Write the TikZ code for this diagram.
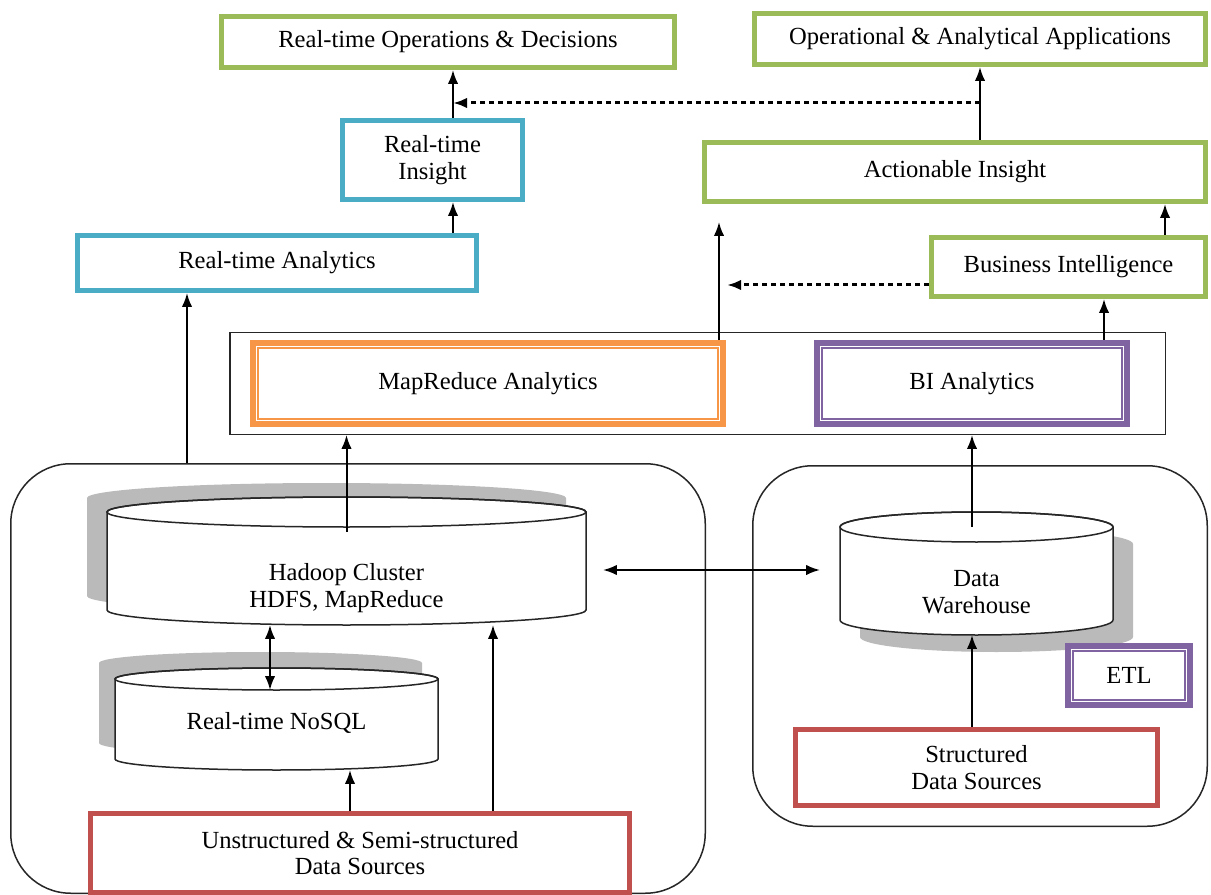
\documentclass[tikz,border=0pt]{standalone}
\usepackage{fontspec}
\setmainfont{Liberation Serif}
\usetikzlibrary{arrows.meta,backgrounds}
\newdimen\pxu \pxu=0.02cm
\definecolor{ogreen}{HTML}{9BBB59}
\definecolor{oblue}{HTML}{4BACC6}
\definecolor{ored}{HTML}{C0504D}
\definecolor{oorange}{HTML}{F79646}
\definecolor{opurple}{HTML}{8064A2}

\begin{document}
\begin{tikzpicture}[x=0.02cm, y=0.02cm, font=\fontsize{14}{15}\selectfont]
          \tikzset{sz/.style 2 args={minimum width=#1\pxu, minimum height=#2\pxu}}
          \tikzset{box/.style={draw=#1, fill=white, line width=5\pxu, inner sep=0pt, align=center}}
          \tikzset{dbox/.style={box=#1, line width=6\pxu}}
          \tikzset{group/.style={draw=black!85, line width=1.5\pxu, inner sep=0pt}}
          \tikzset{body/.style={inner sep=0pt, outer sep=0pt}}
          \tikzset{dbtext/.style={align=center}}
          \tikzset{arr/.style={-{Latex[length=0.28cm, width=0.21cm]}, line width=2\pxu}}
          \tikzset{arr2/.style={{Latex[length=0.28cm, width=0.21cm]}-{Latex[length=0.28cm, width=0.21cm]}, line width=2\pxu}}
          \tikzset{darr/.style={arr, dash pattern=on 0.1cm off 0.08cm, line width=3\pxu}}
          \tikzset{dbshade/.style={fill=black!27}}
          \tikzset{dbline/.style={draw=black!85, line width=1.5\pxu}}

          \useasboundingbox (0,0) rectangle (1211,-895);

          \node[box=ogreen, sz={453}{51}] (ops) at (448,-42) {Real-time Operations \& Decisions};
          \node[box=ogreen, sz={451}{51}] (apps) at (980,-39) {Operational \& Analytical Applications};
          \node[box=oblue, sz={180}{79}] (insight) at (432.5,-160) {Real-time\\Insight};
          \node[box=ogreen, sz={501}{59}] (action) at (955,-172) {Actionable Insight};
          \node[box=oblue, sz={399}{55}] (rta) at (277,-263) {Real-time Analytics};
          \node[box=ogreen, sz={274}{59}] (bi) at (1068.5,-267) {Business Intelligence};
          \node[group, sz={935.5}{101.5}] (ana) at (697.5,-383.5) {};
          \node[dbox=oorange, sz={470}{81}] (mapred) at (488,-383.5) {MapReduce Analytics};
          \node[dbox=opurple, sz={310}{81}] (bia) at (972,-383.5) {BI Analytics};
          \node[group, rounded corners=1.2cm, sz={694.5}{429.5}] (lgroup) at (358,-678.5) {};
          \node[group, rounded corners=1.2cm, sz={454.5}{360.5}] (rgroup) at (980,-646) {};
          \node[body, sz={479}{98}] (hadoop) at (346.5,-561) {};
          \node[dbtext] (hadooptxt) at (346.5,-588) {Hadoop Cluster\\HDFS, MapReduce};
          \node[body, sz={323}{80}] (nosql) at (276.5,-719) {};
          \node[dbtext] (nosqltxt) at (276.5,-723) {Real-time NoSQL};
          \node[body, sz={273}{93}] (dw) at (976.5,-573.5) {};
          \node[dbtext] (dwtxt) at (976.5,-592) {Data\\Warehouse};
          \node[dbox=opurple, sz={122}{59}] (etl) at (1129,-675.5) {ETL};
          \node[box=ored, sz={362}{76}] (ssrc) at (976.5,-767.5) {Structured\\Data Sources};
          \node[box=ored, sz={539}{79}] (usrc) at (360,-853) {Unstructured \& Semi-structured\\Data Sources};

          \foreach \n/\c in {mapred/oorange, bia/opurple, etl/opurple}
            \draw[\c, line width=1.5\pxu] ([shift={(8,-8)}]\n.north west) rectangle ([shift={(-8,8)}]\n.south east);

          \begin{scope}[on background layer]
            \foreach \n/\rx/\ry/\dx/\dy in {hadoop/239.5/15/-20/14, nosql/161.5/11/-16/16, dw/136.5/15/20/-17} {
              \fill[dbshade] ([shift={(\dx,\dy)}]\n.north west) arc[start angle=180, end angle=0, x radius=\rx\pxu, y radius=\ry\pxu]
                -- ([shift={(\dx,\dy)}]\n.south east) arc[start angle=0, end angle=-180, x radius=\rx\pxu, y radius=\ry\pxu] -- cycle;
              \draw[dbline, fill=white] (\n.north west) arc[start angle=180, end angle=0, x radius=\rx\pxu, y radius=\ry\pxu]
                -- (\n.south east) arc[start angle=0, end angle=-180, x radius=\rx\pxu, y radius=\ry\pxu] -- cycle;
              \draw[dbline] (\n.north) ellipse[x radius=\rx\pxu, y radius=\ry\pxu];
            }
          \end{scope}

          \foreach \n/\x in {ta/187, tb/270, tc/350, td/453, te/493, tf/719, tg/972, th/980, ti/1104, tj/1165}
            \coordinate (\n) at (\x,0);
          \coordinate (htop) at ([yshift=-0.4cm]hadoop.north);
          \coordinate (hbot) at ([yshift=-0.3cm]hadoop.south);
          \coordinate (ntop) at ([yshift=-0.22cm]nosql.north);
          \coordinate (nbot) at ([yshift=-0.22cm]nosql.south);
          \coordinate (dbot) at ([yshift=-0.3cm]dw.south);
          \coordinate (dashy) at (0,-103);
          \coordinate (hy) at (0,-570);
          \coordinate (mtip) at (719,-222);
          \coordinate (btip) at (727,-285);

          \draw[arr] (td |- rta.north) -- (td |- insight.south);
          \draw[arr] (td |- insight.north) -- (td |- ops.south);
          \draw[arr] (th |- action.north) -- (th |- apps.south);
          \draw[darr] (th |- dashy) -- (td |- dashy);
          \draw[arr] (tj |- bi.north) -- (tj |- action.south);
          \draw[darr] (bi.west |- btip) -- (btip);
          \draw[arr] (tf |- mapred.north) -- (mtip);
          \draw[arr] (ti |- bia.north) -- (ti |- bi.south);
          \draw[arr] (ta |- lgroup.north) -- (ta |- rta.south);
          \draw[arr] (htop) -- (htop |- ana.south);
          \draw[arr] (tg |- dw.north) -- (tg |- ana.south);
          \draw[arr2] (tb |- hbot) -- (tb |- ntop);
          \draw[arr] (tc |- usrc.north) -- (tc |- nbot);
          \draw[arr] (te |- usrc.north) -- (te |- hbot);
          \draw[arr] (tg |- ssrc.north) -- (tg |- dbot);
          \draw[arr2, shorten <=0.34cm, shorten >=0.4cm] (hadoop.east |- hy) -- (dw.west |- hy);
        \end{tikzpicture}
\end{document}
